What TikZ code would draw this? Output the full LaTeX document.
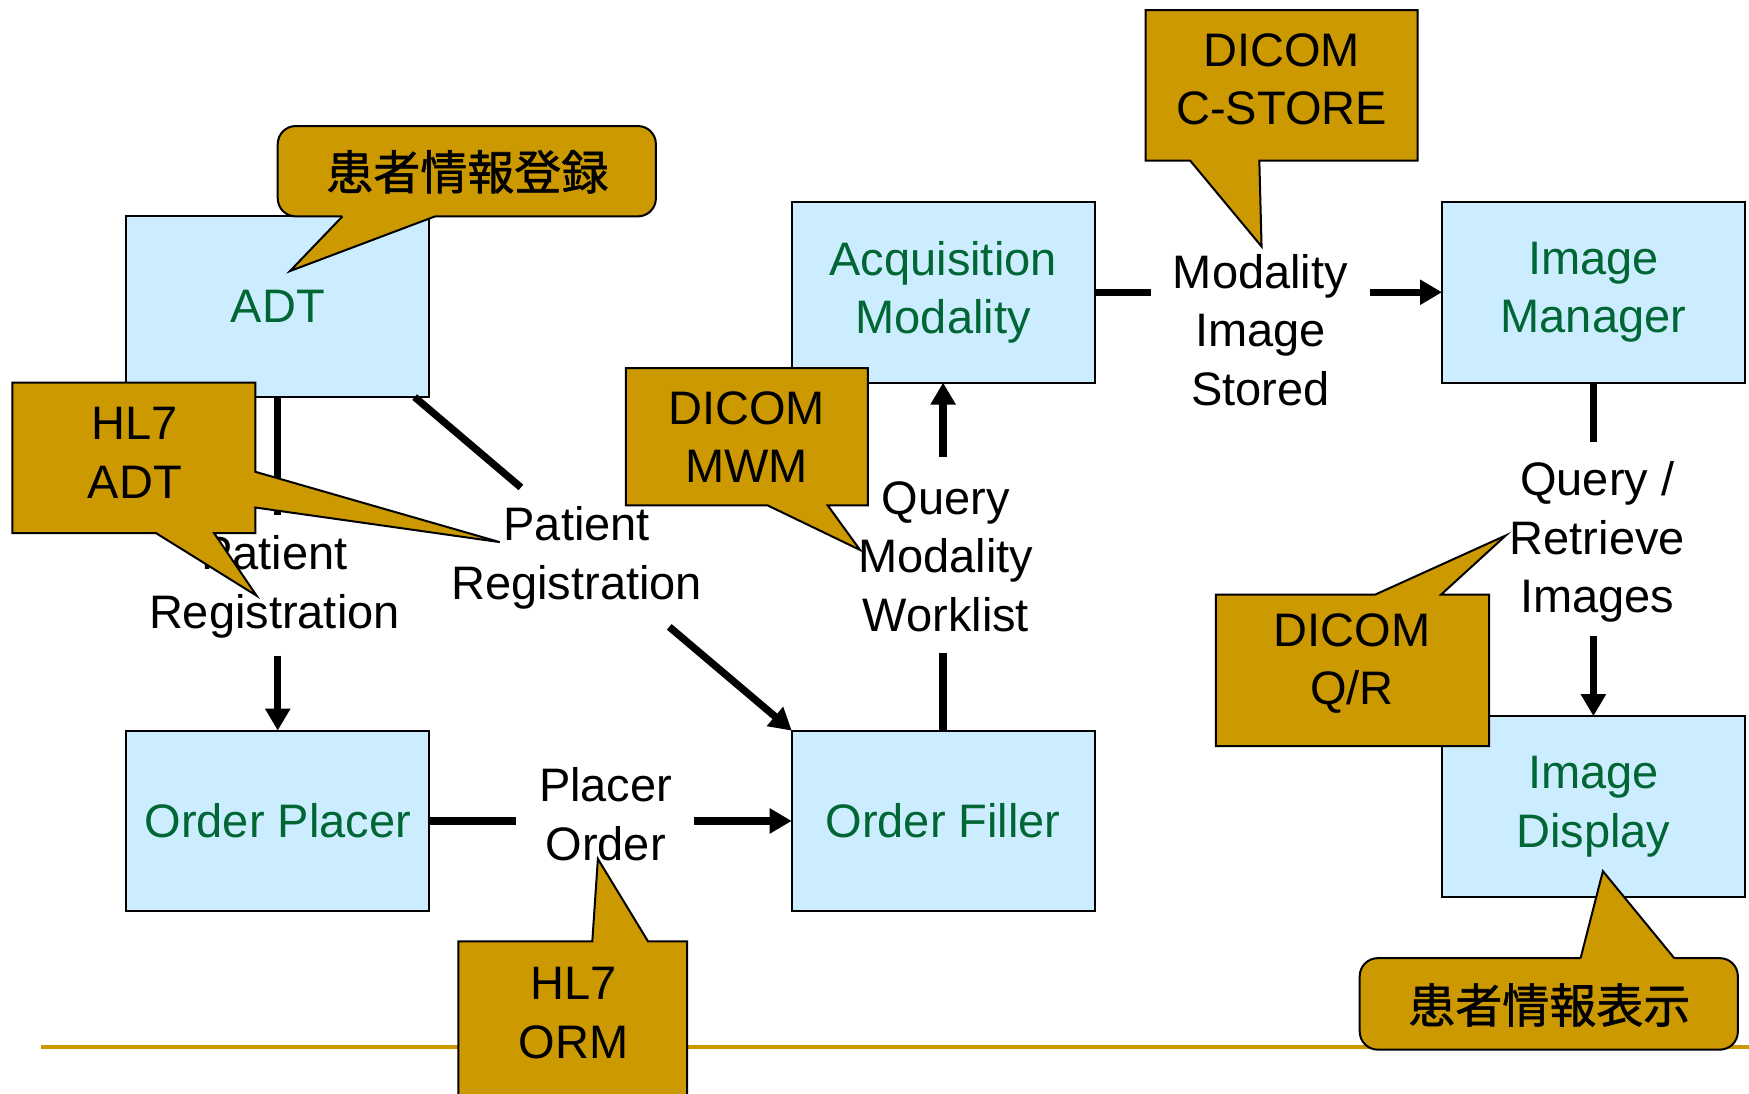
\documentclass[tikz,border=0pt]{standalone}
\usepackage{fontspec}
\setmainfont{Liberation Sans}
\newfontfamily\jpfont[FakeBold=1.2]{Noto Sans CJK JP}
\usetikzlibrary{arrows.meta}
\definecolor{boxblue}{RGB}{204,236,255}
\definecolor{boxgreen}{RGB}{0,102,51}
\definecolor{callgold}{RGB}{204,153,0}
\begin{document}
\begin{tikzpicture}[x=1.11543pt,y=-1.11543pt,
  actor/.style={draw=black, line width=2pt, fill=boxblue, minimum width=302.8pt,
    minimum height=180.7pt, inner sep=0pt, outer sep=0pt, text=boxgreen,
    font=\fontsize{47}{58.6}\selectfont, align=center},
  msg/.style={font=\fontsize{47}{58.6}\selectfont, align=center, inner sep=0pt},
  calltext/.style={font=\fontsize{47}{58.6}\selectfont, align=center, inner sep=0pt},
  jptext/.style={font=\jpfont\fontsize{47}{54}\selectfont, inner sep=0pt},
  callshape/.style={fill=callgold, draw=black, line width=2pt, line join=miter},
  callstroke/.style={draw=black, line width=2pt, line join=miter},
  flow/.style={line width=7.3pt},
  arr/.style={line width=7.3pt, -{Triangle[length=22pt,width=24pt]}},
]
\useasboundingbox (0,0) rectangle (1568,980);
\fill[white] (0,0) rectangle (1568,980);

% bottom rule
\draw[callgold, line width=4pt] (37,939) -- (1568,939);

% actors
\node[actor] (adt)     at (249,275)    {ADT};
\node[actor] (placer)  at (249,736)    {Order Placer};
\node[actor] (filler)  at (845.5,736)  {Order Filler};
\node[actor] (acq)     at (845.5,262)  {Acquisition\\Modality};
\node[actor] (imgmgr)  at (1428.5,262) {Image\\Manager};
\node[actor] (imgdisp) at (1428.5,723) {Image\\Display};

% transaction labels
\node[msg] (lpr1) at (246,526)  {Patient\\Registration};
\node[msg] (lpr2) at (517,500)  {Patient\\Registration};
\node[msg] (lpo)  at (543,730)  {Placer\\Order};
\node[msg] (lqmw) at (848,499)  {Query\\Modality\\Worklist};
\node[msg] (lmis) at (1130,296) {Modality\\Image\\Stored};
\node[msg] (lqr)  at (1432,486) {Query /\\Retrieve\\Images};

% gap end points
\coordinate (v1a) at (249,462);
\coordinate (v1b) at (249,588);
\coordinate (d0) at ([xshift=-14.5pt]adt.south east);
\coordinate (d1) at (467,437);
\coordinate (d2) at (600,562);
\coordinate (p1) at (463,736);
\coordinate (p2) at (622,736);
\coordinate (q1) at (845.5,585);
\coordinate (q2) at (845.5,410);
\coordinate (m1) at (1032,262);
\coordinate (m2) at (1228,262);
\coordinate (r1) at (1428.5,396);
\coordinate (r2) at (1428.5,570);

% connectors
\draw[flow] (adt.south) -- (v1a);
\draw[arr] (v1b) -- (placer.north);
\draw[flow] (d0) -- (d1);
\draw[arr] (d2) -- (filler.north west);
\draw[flow] (placer.east) -- (p1);
\draw[arr] (p2) -- (filler.west);
\draw[flow] (filler.north) -- (q1);
\draw[arr] (q2) -- (acq.south);
\draw[flow] (acq.east) -- (m1);
\draw[arr] (m2) -- (imgmgr.west);
\draw[flow] (imgmgr.south) -- (r1);
\draw[arr] (r2) -- (imgdisp.north);

% callouts
% 患者情報登録
\draw[callshape, rounded corners=18pt] (249,113) rectangle (588,194);
\fill[callgold] (307,187) -- (307,194) -- (260,243) -- (390,194) -- (390,187) -- cycle;
\draw[callstroke] (307,194) -- (260,243) -- (390,194);
\node[jptext] (jp1) at (419,154) {患者情報登録};

% HL7 ADT
\draw[callshape] (11,343) -- (229,343) -- (229,423) -- (448,486) -- (229,455) -- (229,478)
  -- (192,478) -- (230,534) -- (140,478) -- (11,478) -- cycle;
\node[calltext] (hl7adt) at (121,406) {HL7\\ADT};

% DICOM MWM
\draw[callshape] (561,330) -- (778,330) -- (778,453) -- (742,453) -- (771,493) -- (688,453)
  -- (561,453) -- cycle;
\node[calltext] (mwm) at (669.5,392) {DICOM\\MWM};

% DICOM C-STORE
\draw[callshape] (1027,9) -- (1271,9) -- (1271,144) -- (1129,144) -- (1131,221) -- (1067,144)
  -- (1027,144) -- cycle;
\node[calltext] (cstore) at (1149,71) {DICOM\\C-STORE};

% DICOM Q/R
\draw[callshape] (1090,533) -- (1233,533) -- (1350,480) -- (1292,533) -- (1335,533)
  -- (1335,669) -- (1090,669) -- cycle;
\node[calltext] (qr) at (1212,595) {DICOM\\Q/R};

% HL7 ORM
\draw[callshape] (411,844) -- (531,844) -- (536,770) -- (581,844) -- (616,844) -- (616,995)
  -- (411,995) -- cycle;
\node[calltext] (orm) at (514,908) {HL7\\ORM};

% 患者情報表示
\draw[callshape, rounded corners=18pt] (1219,859) rectangle (1558,941);
\fill[callgold] (1417,866) -- (1417,859) -- (1437,781) -- (1501,859) -- (1501,866) -- cycle;
\draw[callstroke] (1417,859) -- (1437,781) -- (1501,859);
\node[jptext] (jp2) at (1389,901) {患者情報表示};
\end{tikzpicture}
\end{document}
